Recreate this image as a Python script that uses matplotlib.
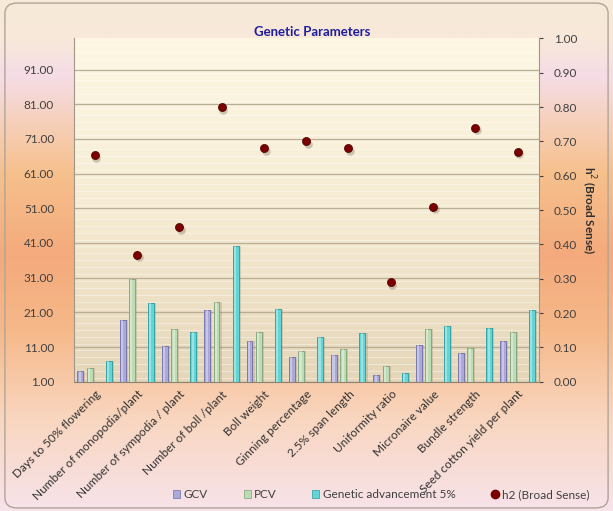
import numpy as np
import matplotlib
matplotlib.use('Agg')
import matplotlib.pyplot as plt
from matplotlib.colors import LinearSegmentedColormap
from matplotlib.patches import FancyBboxPatch
from matplotlib.lines import Line2D
from matplotlib.patches import Patch

plt.rcParams['font.family'] = ['Lato', 'DejaVu Sans']

# data
traits = ['Days to 50% flowering', 'Number of monopodia/plant',
          'Number of sympodia / plant', 'Number of boll /plant',
          'Boll weight', 'Ginning percentage', '2.5% span length',
          'Uniformity ratio', 'Micronaire value', 'Bundle strength',
          'Seed cotton yield per plant']
gcv = [4.1, 18.8, 11.3, 21.7, 12.8, 8.0, 8.6, 3.0, 11.5, 9.2, 12.8]
pcv = [5.0, 30.7, 16.3, 24.1, 15.4, 9.8, 10.4, 5.5, 16.1, 10.7, 15.3]
gen_adv = [7.0, 23.8, 15.4, 40.2, 22.1, 14.0, 15.0, 3.4, 17.1, 16.4, 21.7]
h2 = [0.66, 0.37, 0.45, 0.80, 0.68, 0.70, 0.68, 0.29, 0.51, 0.74, 0.67]

left_ticks = [1, 11, 21, 31, 41, 51, 61, 71, 81, 91]
right_ticks = [0.0, 0.1, 0.2, 0.3, 0.4, 0.5, 0.6, 0.7, 0.8, 0.9, 1.0]

fig = plt.figure(figsize=(6.13, 5.11), dpi=100)

# figure background gradient (vertical bands)
bg = fig.add_axes([0, 0, 1, 1], zorder=-10)
bg_cmap = LinearSegmentedColormap.from_list('bg', [
    (0.00, '#f7ead8'), (0.08, '#f8e8da'), (0.15, '#f5dce6'),
    (0.22, '#f6d3c4'), (0.34, '#f6c08c'), (0.50, '#f4aa7c'),
    (0.65, '#f6b98a'), (0.82, '#f9d6bf'), (1.00, '#f7e3ea')])
bg.imshow(np.linspace(0, 1, 256).reshape(-1, 1), aspect='auto',
          cmap=bg_cmap, extent=[0, 1, 0, 1], origin='upper')
bg.set_xlim(0, 1)
bg.set_ylim(0, 1)
bg.axis('off')
bg.add_patch(FancyBboxPatch((0.008, 0.006), 0.984, 0.988,
                            boxstyle='round,pad=0,rounding_size=0.02',
                            fill=False, ec='#b0a49a', lw=1.0,
                            transform=bg.transAxes))

ax = fig.add_axes([0.1200, 0.253, 0.7590, 0.672])
x = np.arange(len(traits))
w = 0.14

# plot area gradient with thin stripes
pa_cmap = LinearSegmentedColormap.from_list('pa', ['#fdf7e4', '#f6ecd3', '#e5d6b9'])
ax.imshow(np.linspace(0, 1, 256).reshape(-1, 1), aspect='auto', cmap=pa_cmap,
          extent=[-0.5, 10.5, 1, 100], origin='upper', zorder=0)
for yy in np.arange(2, 100, 2.0):
    ax.axhline(yy, color='white', lw=0.6, alpha=0.45, zorder=1)
for yy in left_ticks:
    ax.axhline(yy, color='#b8ae98', lw=0.9, zorder=1.5)

series = [(gcv, -0.34, '#aaa9d9', '#6e6ca8'),
          (pcv, -0.12, '#bcdcb4', '#7ea078'),
          (gen_adv, 0.33, '#62d6d6', '#2a9a9e')]
for vals, off, col, edge in series:
    heights = np.array(vals) - 1
    # soft shadow
    ax.bar(x + off + 0.05, heights, w, bottom=1, color='#7a6a50',
           alpha=0.22, zorder=2)
    ax.bar(x + off, heights, w, bottom=1, color=col, edgecolor=edge,
           lw=0.6, zorder=3)
    # highlight stripe
    ax.bar(x + off - 0.015, heights, w * 0.35, bottom=1, color='white',
           alpha=0.35, zorder=3.5, lw=0)

ax.set_xlim(-0.5, 10.5)
ax.set_ylim(1, 100)
ax.set_yticks(left_ticks)
ax.set_yticklabels(['%.2f' % t for t in left_ticks])
ax.tick_params(axis='y', length=0, labelsize=8.5, colors='#404040', pad=14)
ax.set_xticks(x)
ax.set_xticklabels(traits, rotation=45, ha='right', va='top',
                   rotation_mode='anchor', fontsize=8.5, color='#303030')
ax.tick_params(axis='x', length=0, pad=5)
for s in ['top', 'right']:
    ax.spines[s].set_visible(False)
ax.spines['left'].set_color('#a09886')
ax.spines['bottom'].set_color('#8a8272')

ax2 = ax.twinx()
ax2.scatter(x + 0.04, np.array(h2) - 0.008, s=38, color='#6a5a4a', alpha=0.3,
            zorder=4, lw=0)
ax2.scatter(x, h2, s=34, color='#7a0000', edgecolor='#4a0000', lw=0.5,
            zorder=5)
ax2.set_ylim(0, 1)
ax2.set_yticks(right_ticks)
ax2.set_yticklabels(['%.2f' % t for t in right_ticks])
ax2.tick_params(axis='y', length=3, colors='#404040', labelsize=8.5, pad=8)
for s in ['top', 'left', 'bottom']:
    ax2.spines[s].set_visible(False)
ax2.spines['right'].set_color('#a09886')
ax2.set_ylabel('h$^2$ (Broad Sense)', rotation=-90, fontsize=8.5,
               fontweight='bold', color='#303030', labelpad=14)

fig.text(0.51, 0.938, 'Genetic Parameters', ha='center', va='center',
         fontsize=9.5, fontweight='bold', color='#1f1f9c')

handles = [Patch(facecolor='#aaa9d9', edgecolor='#6e6ca8', lw=0.5),
           Patch(facecolor='#bcdcb4', edgecolor='#7ea078', lw=0.5),
           Patch(facecolor='#62d6d6', edgecolor='#2a9a9e', lw=0.5),
           Line2D([], [], marker='o', ls='', color='#7a0000', markersize=6)]
labels = ['GCV', 'PCV', 'Genetic advancement 5%', 'h2 (Broad Sense)']
leg = fig.legend(handles, labels, loc='center', bbox_to_anchor=(0.622, 0.032),
                 ncol=4, frameon=False, fontsize=8.5, handlelength=0.6,
                 handleheight=0.6, handletextpad=0.3, columnspacing=3.0)
for t in leg.get_texts():
    t.set_color('#404040')

fig.savefig('out.png', dpi=100)
